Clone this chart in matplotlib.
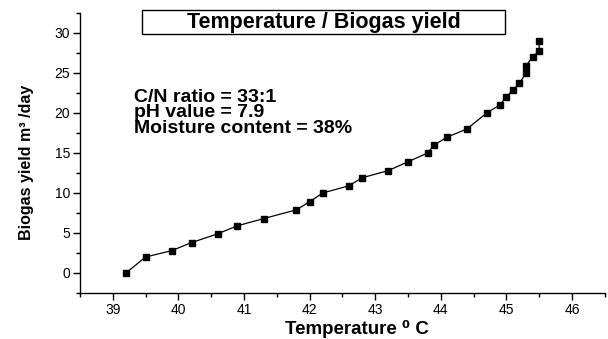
import matplotlib.pyplot as plt
import matplotlib as mpl
from matplotlib.patches import Rectangle

mpl.rcParams['font.family'] = ['Liberation Sans', 'DejaVu Sans']

# data
temperature = [39.2, 39.5, 39.9, 40.2, 40.6, 40.9, 41.3, 41.8, 42.0, 42.2,
               42.6, 42.8, 43.2, 43.5, 43.8, 43.9, 44.1, 44.4, 44.7, 44.9,
               45.0, 45.1, 45.2, 45.3, 45.3, 45.4, 45.5, 45.5]
biogas = [0, 2, 2.8, 3.8, 4.9, 5.9, 6.8, 7.9, 8.9, 10,
          10.9, 11.9, 12.8, 13.9, 15, 16, 17, 18, 20, 21,
          22, 22.9, 23.7, 25, 25.9, 27, 27.8, 29]

x_ticks = [39, 40, 41, 42, 43, 44, 45, 46]
y_ticks = [0, 5, 10, 15, 20, 25, 30]

fig = plt.figure(figsize=(6.08, 3.39), dpi=100)
ax = fig.add_axes([0.1316, 0.1357, 0.863, 0.826])

ax.plot(temperature, biogas, color='black', lw=0.9, marker='s', ms=5,
        mfc='black', mec='black')

ax.set_xlim(38.52, 46.45)
ax.set_ylim(-2.5, 32.5)
ax.set_xticks(x_ticks)
ax.set_yticks(y_ticks)
ax.set_xticks([t + 0.5 for t in range(38, 47)], minor=True)
ax.set_yticks([v + 2.5 for v in range(-5, 31, 5)], minor=True)
ax.tick_params(which='major', length=5, width=1, labelsize=10, direction='out', pad=2)
ax.tick_params(which='minor', length=3, width=1, direction='out')

for s in ['top', 'right']:
    ax.spines[s].set_visible(False)
for s in ['left', 'bottom']:
    ax.spines[s].set_linewidth(1)

# axis labels placed by hand to keep them inside the canvas
fig.text(357 / 608, 1 - 334 / 339, 'Temperature \u2070 C', fontsize=13.5,
         fontweight='bold', ha='center', va='baseline')
fig.text(27 / 608, 1 - 162 / 339, 'Biogas yield m\u00b3 /day', fontsize=11.5,
         fontweight='bold', rotation=90, ha='center', va='center')

# boxed title
fig.add_artist(Rectangle((142 / 608, 1 - 34 / 339), 363 / 608, 24 / 339,
                         transform=fig.transFigure, fc='white', ec='black', lw=1))
fig.text(0.532, 0.935, 'Temperature / Biogas yield', fontsize=15.5,
         fontweight='bold', ha='center', va='center')

ax.text(39.33, 23.0, 'C/N ratio = 33:1\npH value = 7.9\nMoisture content = 38%',
        fontsize=14, fontweight='bold', va='top', ha='left', linespacing=0.88)

fig.savefig('out.png', dpi=100)
